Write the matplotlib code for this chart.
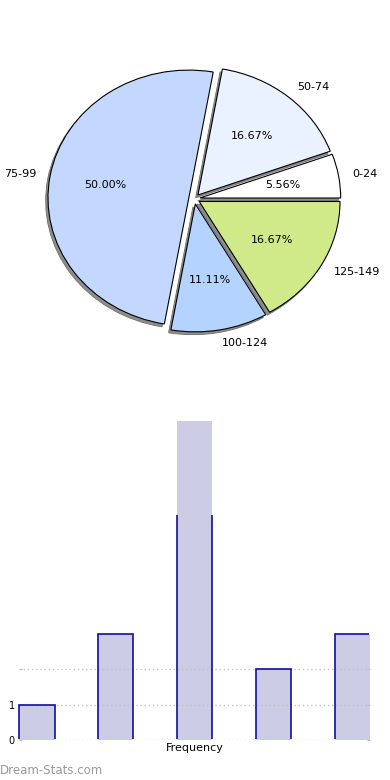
import numpy as np
import matplotlib
matplotlib.use("Agg")
import matplotlib.pyplot as plt
from matplotlib.patches import Rectangle

# class intervals and their frequencies
labels = ["0-24", "50-74", "75-99", "100-124", "125-149"]
freq = [1, 3, 9, 2, 3]
pie_colors = ["#ffffff", "#eaf1ff", "#c4d8ff", "#b4d4ff", "#d0ea8a"]
yticks = [0, 1, 2]
ytick_labels = ["0", "1", ""]

fig = plt.figure(figsize=(3.9, 7.8), dpi=100)

# --- pie chart ---
ax1 = fig.add_axes([0.047, 0.540, 0.9026, 0.410])
ax1.pie(freq, labels=labels, colors=pie_colors, autopct="%.2f%%",
        startangle=0, explode=[0.04] * len(freq),
        shadow={"ox": -0.012, "oy": -0.016, "alpha": 1,
                "facecolor": "#8e8e8e", "edgecolor": "#6e6e6e",
                "linewidth": 0.6},
        wedgeprops=dict(edgecolor="black", linewidth=0.8),
        textprops=dict(fontsize=8))
ax1.set_aspect("auto")
ax1.set_xlim(-1.25, 1.25)
ax1.set_ylim(-1.25, 1.25)

# --- bar chart ---
ax2 = fig.add_axes([0.0487, 0.0513, 0.901, 0.409])
x = np.arange(len(freq))
w = 0.45
ax2.bar(x, freq, width=w, color="#ccccE4", edgecolor="none", zorder=1)
edges = ax2.bar(x, freq, width=w, fill=False, edgecolor="#10109a",
                linewidth=1.2, zorder=3)
# outline only drawn up to about 6.35 in the original, no bottom / far-right edge
xr = len(freq) - 1 + w / 2
clip = Rectangle((-1, 0.04), xr - 0.02 + 1, 6.31, transform=ax2.transData)
for b in edges:
    b.set_clip_path(clip)

ax2.set_xlim(-w / 2, xr)
ax2.set_ylim(0, 9)
ax2.set_yticks(yticks)
ax2.set_yticklabels(ytick_labels, fontsize=7)
ax2.set_xticks([])
for y in yticks:
    ax2.axhline(y, color="#c4c4c4", linestyle=(0, (1, 2)), linewidth=1, zorder=2)
for s in ax2.spines.values():
    s.set_visible(False)
ax2.tick_params(axis="y", length=2, color="#bbbbbb", pad=3, right=True,
                direction="in")
ax2.set_xlabel("Frequency", fontsize=8, labelpad=2)

fig.text(0.0, 0.0128, "Dream-Stats.com", fontsize=8.5, color="#999999",
         ha="left", va="center")

fig.savefig("out.png", dpi=100)
